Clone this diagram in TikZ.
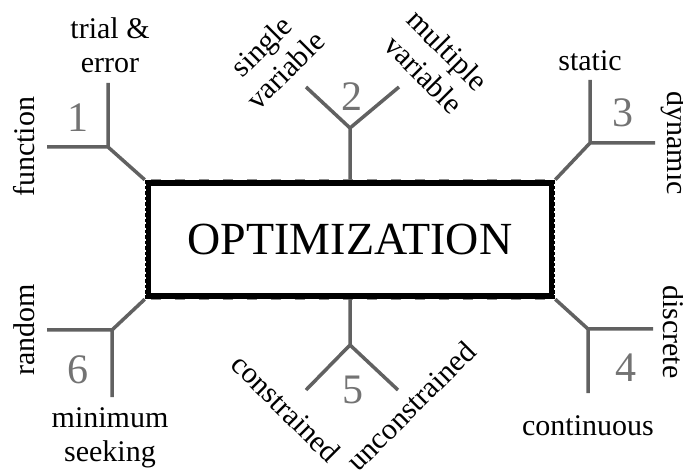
\documentclass[tikz,border=0pt]{standalone}
\usepackage{fontspec}
\setmainfont{Liberation Serif}
\usetikzlibrary{positioning}

\begin{document}
\begin{tikzpicture}[x=1pt,y=-1pt,
  branch/.style={draw=black!62, line width=3.5pt},
  num/.style={text=black!55, font=\fontsize{42}{42}\selectfont, inner sep=0pt},
  lbl/.style={font=\fontsize{30}{34}\selectfont, align=center, inner sep=0pt}]
\useasboundingbox (0,0) rectangle (683,470);
% Main box
\node[draw, line width=6.5pt, minimum width=404pt, minimum height=113pt, inner sep=0pt,
  font=\fontsize{46}{46}\selectfont] (opt) at (350,239.5) {OPTIMIZATION};
% chain look of the border
\draw[white, line width=1.6pt, dash pattern=on 2pt off 3.5pt] ([yshift=-4pt]opt.north west) -- ([yshift=4pt]opt.south west);
\draw[white, line width=1.6pt, dash pattern=on 2pt off 3.5pt] ([yshift=-4pt]opt.north east) -- ([yshift=4pt]opt.south east);
\draw[black!45, line width=0.8pt, dash pattern=on 10pt off 14pt] ([xshift=6pt]opt.north west) -- ([xshift=-6pt]opt.north east);
\draw[black!45, line width=0.8pt, dash pattern=on 10pt off 14pt] ([xshift=6pt]opt.south west) -- ([xshift=-6pt]opt.south east);
% Branch 1
\coordinate (j1) at (108,147);
\coordinate (e1a) at (108,83);
\coordinate (e1b) at (47,147);
\draw[branch] (opt.north west) -- (j1) -- (e1a) (j1) -- (e1b);
\node[num] (n1) at (78,118) {1};
\node[lbl] (l1a) at (110,45) {trial \&\\error};
\node[lbl, rotate=90] (l1b) at (24,147) {function};
% Branch 2
\coordinate (j2) at (350,128);
\coordinate (e2a) at (306,87);
\coordinate (e2b) at (399,87);
\draw[branch] (opt.north) -- (j2) -- (e2a) (j2) -- (e2b);
\node[num] (n2) at (352,97) {2};
\node[lbl, rotate=45] (l2a) at (273,58) {single\\variable};
\node[lbl, rotate=-45] (l2b) at (436,62) {multiple\\variable};
% Branch 3
\coordinate (j3) at (590,143);
\coordinate (e3a) at (590,80);
\coordinate (e3b) at (655,143);
\draw[branch] (opt.north east) -- (j3) -- (e3a) (j3) -- (e3b);
\node[num] (n3) at (623,113) {3};
\node[lbl] (l3a) at (590,61) {static};
\node[lbl, rotate=-90] (l3b) at (675,143) {dynamic};
% Branch 4
\coordinate (j4) at (588,329);
\coordinate (e4a) at (653,329);
\coordinate (e4b) at (588,393);
\draw[branch] (opt.south east) -- (j4) -- (e4a) (j4) -- (e4b);
\node[num] (n4) at (626,368) {4};
\node[lbl, rotate=-90] (l4a) at (674,332) {discrete};
\node[lbl] (l4b) at (588,426) {continuous};
% Branch 5
\coordinate (j5) at (350,345);
\coordinate (e5a) at (306,390);
\coordinate (e5b) at (398,390);
\draw[branch] (opt.south) -- (j5) -- (e5a) (j5) -- (e5b);
\node[num] (n5) at (353,390) {5};
\node[lbl, rotate=-45] (l5a) at (286,408) {constrained};
\node[lbl, rotate=45] (l5b) at (411,406) {unconstrained};
% Branch 6
\coordinate (j6) at (112,330);
\coordinate (e6a) at (47,330);
\coordinate (e6b) at (112,397);
\draw[branch] (opt.south west) -- (j6) -- (e6a) (j6) -- (e6b);
\node[num] (n6) at (78,370) {6};
\node[lbl, rotate=90] (l6a) at (24,330) {random};
\node[lbl] (l6b) at (110,438) {minimum\\seeking};
\end{tikzpicture}
\end{document}
